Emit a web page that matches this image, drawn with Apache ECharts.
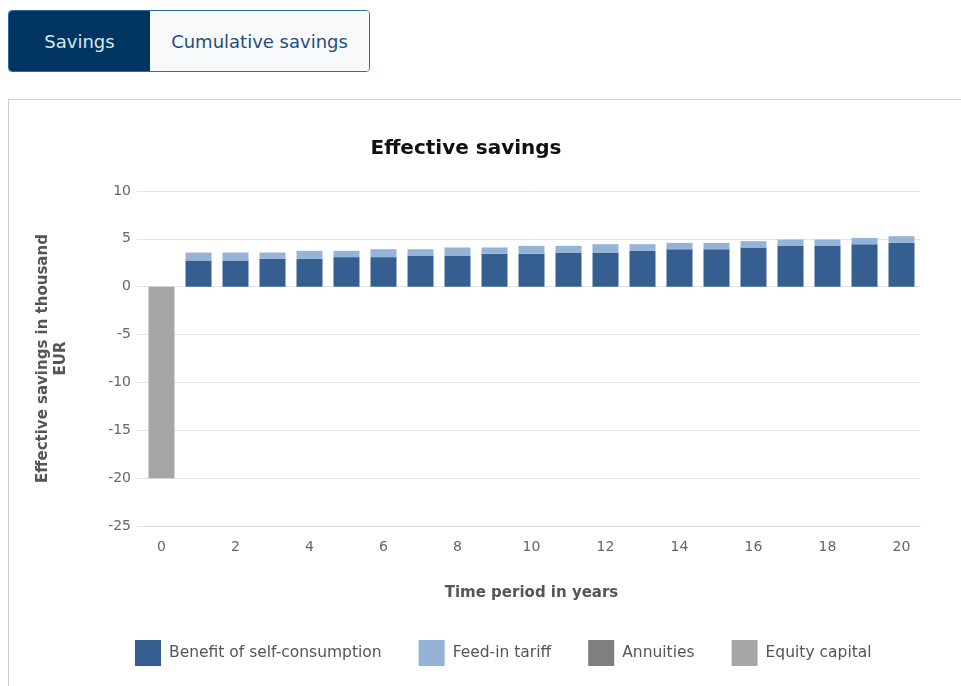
<!DOCTYPE html>
<html>
<head>
<meta charset="utf-8">
<script src="https://cdn.jsdelivr.net/npm/echarts@6/dist/echarts.min.js"></script>
<style>
  html, body { margin: 0; padding: 0; background: #fff; width: 961px; height: 686px; overflow: hidden; font-family: "DejaVu Sans", sans-serif; }
  #tabs { position: absolute; left: 8px; top: 10px; width: 362px; height: 62px; border: 1px solid #2f6b9e; border-radius: 4px; overflow: hidden; display: flex; box-sizing: border-box; z-index: 2; }
  #tabs div { display: flex; align-items: center; justify-content: center; font-size: 18px; }
  #t1 { width: 141px; background: #003561; color: #dbe6f0; }
  #t2 { flex: 1; background: #f8f9fa; color: #1f4f7c; }
  #panel { position: absolute; left: 8px; top: 99px; width: 960px; height: 600px; border-top: 1px solid #cfcfcf; border-left: 1px solid #cfcfcf; }
  #chart { position: absolute; left: 0; top: 0; width: 961px; height: 686px; z-index: 1; }
</style>
</head>
<body>
<div id="tabs"><div id="t1">Savings</div><div id="t2">Cumulative savings</div></div>
<div id="panel"></div>
<div id="chart"></div>
<script>
const years = ['0','1','2','3','4','5','6','7','8','9','10','11','12','13','14','15','16','17','18','19','20'];
const selfConsumption = [0, 2.74, 2.74, 2.92, 2.92, 3.09, 3.09, 3.26, 3.26, 3.44, 3.44, 3.57, 3.57, 3.75, 3.92, 3.92, 4.10, 4.27, 4.27, 4.44, 4.58];
const feedInTariff = [0, 0.83, 0.83, 0.65, 0.83, 0.66, 0.83, 0.66, 0.84, 0.66, 0.83, 0.70, 0.87, 0.69, 0.66, 0.66, 0.66, 0.66, 0.66, 0.66, 0.70];
const annuities = [0, 0, 0, 0, 0, 0, 0, 0, 0, 0, 0, 0, 0, 0, 0, 0, 0, 0, 0, 0, 0];
const equityCapital = [-20, 0, 0, 0, 0, 0, 0, 0, 0, 0, 0, 0, 0, 0, 0, 0, 0, 0, 0, 0, 0];
const yTicks = { min: -25, max: 10, interval: 5 };

const font = '"DejaVu Sans", sans-serif';
const chart = echarts.init(document.getElementById('chart'), null, { renderer: 'canvas' });
const mk = (name, data, color) => ({
  name, type: 'bar', stack: 'total', data, barWidth: 26,
  itemStyle: { color },
  emphasis: { disabled: true }
});
chart.setOption({
  animation: false,
  backgroundColor: 'transparent',
  title: {
    text: 'Effective savings', left: 461, top: 134, textAlign: 'center',
    textStyle: { fontFamily: font, fontSize: 20, fontWeight: 'bold', color: '#111' }
  },
  grid: { left: 143, right: 41, top: 191, bottom: 160 },
  legend: {
    left: 135, top: 640, padding: 0, itemWidth: 26, itemHeight: 26, itemGap: 37, icon: 'rect',
    textStyle: { fontFamily: font, fontSize: 15.5, color: '#555', padding: [0, 0, 0, 3] },
    data: ['Benefit of self-consumption', 'Feed-in tariff', 'Annuities', 'Equity capital']
  },
  xAxis: {
    type: 'category', data: years,
    name: 'Time period in years', nameLocation: 'middle', nameGap: 60,
    nameTextStyle: { fontFamily: font, fontSize: 15, fontWeight: 'bold', color: '#555' },
    axisLine: { onZero: false, lineStyle: { color: '#dcdcdc' } },
    axisTick: { interval: 0, length: 5, lineStyle: { color: '#dcdcdc' } },
    axisLabel: { interval: 1, margin: 14, fontFamily: font, fontSize: 14, color: '#666' }
  },
  yAxis: {
    type: 'value', min: yTicks.min, max: yTicks.max, interval: yTicks.interval,
    name: 'Effective savings in thousand\nEUR', nameLocation: 'middle', nameGap: 73, nameRotate: 90,
    nameTextStyle: { fontFamily: font, fontSize: 15, fontWeight: 'bold', color: '#555', lineHeight: 18 },
    axisLine: { show: false },
    axisTick: { show: true, length: 6, lineStyle: { color: '#e3e3e3' } },
    splitLine: { lineStyle: { color: '#e3e3e3' } },
    axisLabel: { margin: 12, fontFamily: font, fontSize: 14, color: '#666' }
  },
  series: [
    mk('Benefit of self-consumption', selfConsumption, '#355f91'),
    mk('Feed-in tariff', feedInTariff, '#95b3d7'),
    mk('Annuities', annuities, '#7f7f7f'),
    mk('Equity capital', equityCapital, '#a6a6a6')
  ]
});
</script>
</body>
</html>
